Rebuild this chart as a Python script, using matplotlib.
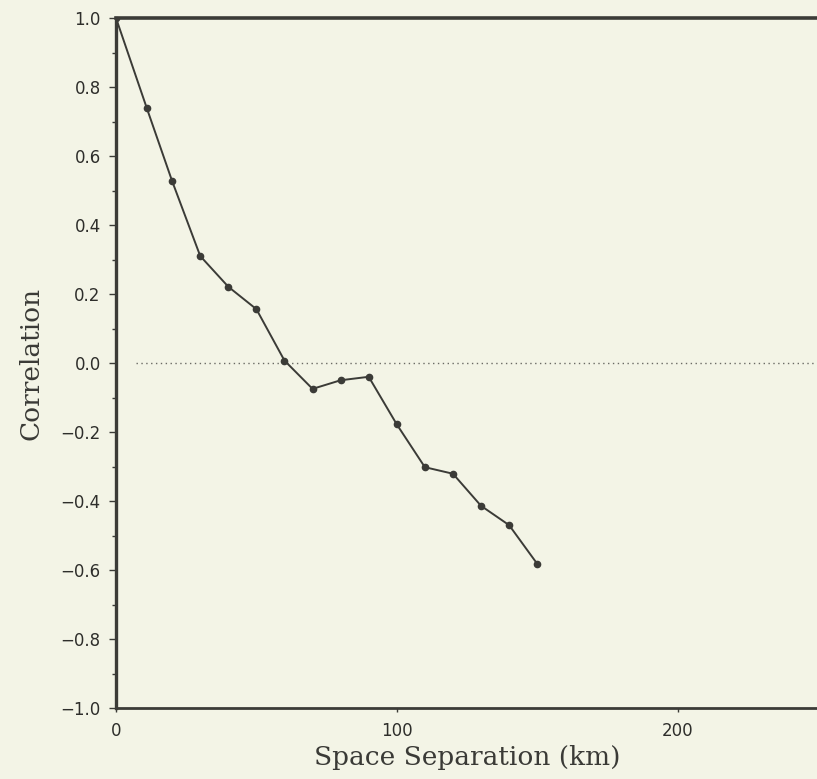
#!/usr/bin/env python3
"""Spatial correlation versus space separation (scanned figure recreation)."""

import matplotlib

matplotlib.use("Agg")
import matplotlib.pyplot as plt
from matplotlib.ticker import MultipleLocator

# separation (km) and correlation
separation_km = [0, 11, 20, 30, 40, 50, 60, 70, 80, 90, 100, 110, 120, 130, 140, 150]
correlation = [1.0, 0.738, 0.527, 0.310, 0.221, 0.156, 0.007, -0.075, -0.050,
               -0.040, -0.178, -0.302, -0.321, -0.414, -0.470, -0.582]

x_ticks = [0, 100, 200]
y_ticks = [-1.0, -0.8, -0.6, -0.4, -0.2, 0.0, 0.2, 0.4, 0.6, 0.8, 1.0]

PAPER = "#f3f4e6"
INK = "#3b3b37"
TEXT = "#2e2e2b"


def main() -> None:
    fig = plt.figure(figsize=(8.17, 7.79), dpi=100, facecolor=PAPER)
    ax = fig.add_axes([116 / 817, 1 - 708 / 779, 702 / 817, 690 / 779])
    ax.set_facecolor(PAPER)

    ax.plot(separation_km, correlation, color=INK, lw=1.4, marker="o", ms=4.5,
            mfc=INK, mec=INK, zorder=3)
    ax.hlines(0.0, 7, 250, colors="#6a6a64", linestyles=(0, (1, 2.5)), lw=1.0, zorder=2)

    ax.set_xlim(0, 250)
    ax.set_ylim(-1.0, 1.0)
    ax.set_xticks(x_ticks)
    ax.set_yticks(y_ticks)
    ax.set_yticklabels([f"{v:.1f}".replace("-", "\u2212") for v in y_ticks])
    ax.yaxis.set_minor_locator(MultipleLocator(0.1))

    for side in ("left", "top", "bottom", "right"):
        ax.spines[side].set_color(INK)
    ax.spines["left"].set_linewidth(2.4)
    ax.spines["top"].set_linewidth(2.6)
    ax.spines["bottom"].set_linewidth(2.0)
    ax.spines["right"].set_visible(False)

    ax.tick_params(axis="y", which="major", direction="out", length=5, width=1.0,
                   color=INK, labelcolor=TEXT, labelsize=12, pad=6)
    ax.tick_params(axis="y", which="minor", direction="out", length=3, width=1.0,
                   color=INK)
    ax.tick_params(axis="x", which="major", direction="out", length=3, width=1.0,
                   color=INK, labelcolor=TEXT, labelsize=12, pad=7)

    ax.set_xlabel("Space Separation (km)", family="DejaVu Serif", fontsize=19,
                  color="#3a3a36", labelpad=4)
    ax.set_ylabel("Correlation", family="DejaVu Serif", fontsize=19,
                  color="#3a3a36", labelpad=12)

    fig.savefig("out.png", dpi=100, facecolor=PAPER)
    plt.close(fig)


if __name__ == "__main__":
    main()
